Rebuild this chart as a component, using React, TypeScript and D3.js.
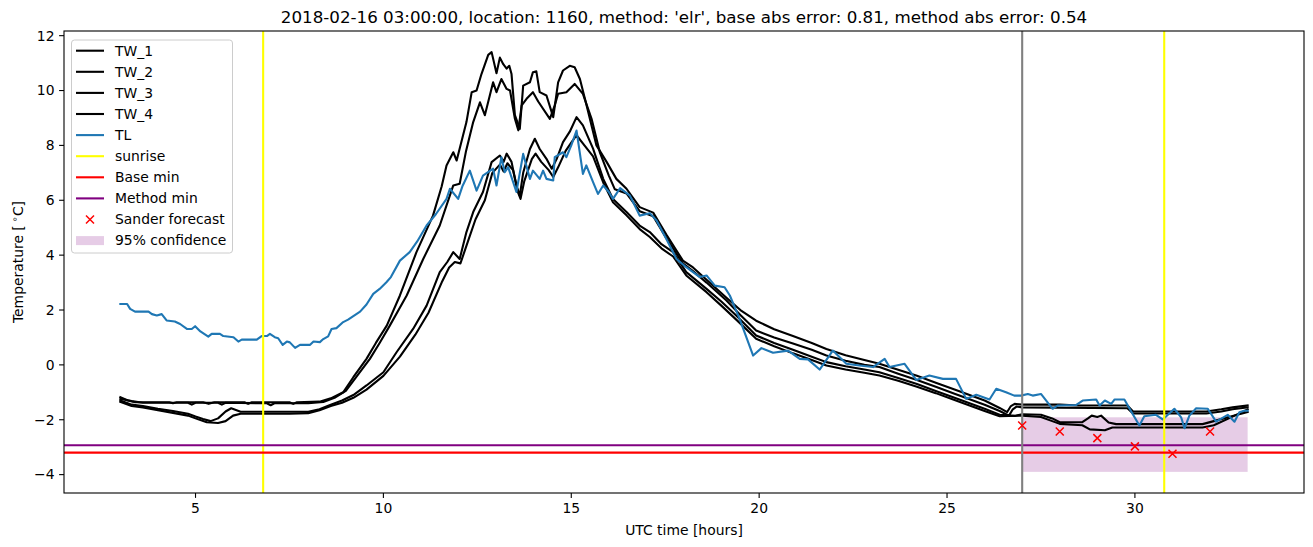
import React from "react";
import * as d3 from "d3";

type P = [number, number];

const TITLE = "2018-02-16 03:00:00, location: 1160, method: 'elr', base abs error: 0.81, method abs error: 0.54";
const X_TICKS = [5, 10, 15, 20, 25, 30];
const Y_TICKS = [-4, -2, 0, 2, 4, 6, 8, 10, 12];
const X_DOMAIN: P = [1.5, 34.5];
const Y_DOMAIN: P = [-4.67, 12.17];

const SUNRISE = [6.8, 30.78];
const FORECAST_START = 27;
const BASE_MIN = -3.2;
const METHOD_MIN = -2.93;
const CONF_X: P = [27, 33];
const CONF_Y: P = [-3.9, -1.91];
const SANDER_T = [27, 28, 29, 30, 31, 32];
const SANDER_V = [-2.21, -2.43, -2.67, -2.97, -3.24, -2.43];

const TW_1: P[] = [[3.0,-1.18],[3.2,-1.3],[3.4,-1.36],[4.3,-1.36],[4.4,-1.4],[4.5,-1.36],[5.2,-1.36],[5.35,-1.42],[5.5,-1.36],[6.3,-1.36],[6.4,-1.42],[6.5,-1.36],[7.5,-1.36],[7.6,-1.42],[7.7,-1.36],[8.3,-1.34],[8.6,-1.22],[8.93,-1.0],[9.2,-0.45],[9.55,0.22],[9.8,0.8],[10.09,1.43],[10.44,2.53],[10.88,4.11],[11.32,5.44],[11.55,6.5],[11.68,7.27],[11.86,7.75],[11.95,7.45],[12.21,8.85],[12.35,9.94],[12.48,10.0],[12.61,10.6],[12.79,11.3],[12.88,11.4],[13.01,10.63],[13.1,11.2],[13.19,10.96],[13.28,10.8],[13.35,10.9],[13.41,10.6],[13.5,9.1],[13.63,8.6],[13.72,10.18],[13.9,10.3],[13.98,10.67],[14.07,10.7],[14.16,9.94],[14.34,9.82],[14.52,9.03],[14.65,10.3],[14.78,10.73],[14.96,10.9],[15.09,10.85],[15.23,10.42],[15.4,9.5],[15.67,8.0],[15.94,7.4],[16.2,6.78],[16.47,6.42],[16.82,5.75],[17.18,5.55],[17.53,4.75],[17.97,3.8],[18.24,3.55],[18.6,3.1],[19.13,2.45],[19.5,2.0],[19.92,1.61],[20.4,1.3],[20.9,1.05],[21.4,0.8],[21.79,0.58],[22.3,0.35],[22.8,0.18],[23.2,0.04],[23.7,-0.18],[24.2,-0.4],[24.7,-0.65],[25.2,-0.9],[25.6,-1.1],[26.0,-1.3],[26.4,-1.57],[26.6,-1.72],[26.7,-1.5],[26.8,-1.42],[27.0,-1.45],[28.0,-1.45],[28.5,-1.48],[29.8,-1.48],[29.95,-1.7],[31.9,-1.7],[32.3,-1.62],[32.6,-1.55],[33.0,-1.48]];

const TW_2: P[] = [[3.0,-1.24],[3.3,-1.32],[3.6,-1.38],[4.8,-1.38],[4.9,-1.45],[5.0,-1.38],[5.6,-1.38],[5.7,-1.45],[5.8,-1.38],[6.9,-1.4],[7.0,-1.47],[7.1,-1.4],[8.0,-1.4],[8.4,-1.35],[8.7,-1.2],[9.0,-0.95],[9.3,-0.4],[9.64,0.22],[9.9,0.8],[10.17,1.43],[10.62,2.53],[11.06,3.86],[11.5,5.08],[11.86,6.54],[12.03,6.6],[12.2,7.8],[12.39,8.85],[12.57,9.57],[12.7,9.1],[12.92,10.3],[13.01,9.94],[13.14,10.42],[13.28,10.06],[13.37,10.0],[13.5,8.97],[13.59,8.55],[13.68,9.46],[13.81,9.7],[13.98,9.94],[14.12,9.6],[14.43,8.97],[14.56,9.46],[14.65,9.88],[14.87,9.94],[15.09,10.24],[15.31,9.88],[15.54,8.97],[15.76,7.75],[16.0,6.9],[16.16,6.4],[16.47,6.25],[16.82,5.6],[17.18,5.42],[17.53,4.62],[17.97,3.7],[18.24,3.42],[18.6,3.0],[19.13,2.35],[19.5,1.82],[19.92,1.25],[20.4,1.0],[20.9,0.78],[21.4,0.55],[21.79,0.34],[22.3,0.15],[22.8,0.0],[23.2,-0.08],[23.7,-0.32],[24.2,-0.55],[24.7,-0.8],[25.2,-1.05],[25.6,-1.25],[26.0,-1.45],[26.4,-1.68],[26.65,-1.85],[26.75,-1.62],[26.85,-1.52],[27.0,-1.55],[29.8,-1.58],[29.95,-1.77],[31.9,-1.77],[32.3,-1.7],[32.6,-1.62],[33.0,-1.55]];

const TW_3: P[] = [[3.0,-1.3],[3.3,-1.45],[3.6,-1.5],[4.0,-1.6],[4.4,-1.68],[4.8,-1.78],[5.0,-1.88],[5.2,-1.97],[5.4,-2.05],[5.6,-1.95],[5.8,-1.7],[5.95,-1.58],[6.2,-1.71],[8.0,-1.71],[8.3,-1.62],[8.6,-1.45],[8.9,-1.3],[9.2,-1.1],[9.55,-0.75],[10.0,-0.27],[10.35,0.46],[10.79,1.31],[11.15,2.16],[11.5,3.38],[11.7,3.75],[11.86,4.11],[12.03,3.86],[12.21,4.84],[12.39,5.57],[12.65,6.3],[12.88,7.39],[13.1,7.63],[13.2,7.4],[13.28,7.7],[13.41,7.4],[13.54,6.54],[13.63,6.17],[13.72,7.0],[13.9,7.87],[14.03,8.24],[14.16,7.87],[14.34,7.51],[14.48,7.15],[14.61,7.5],[14.78,8.12],[14.96,8.5],[15.14,9.03],[15.31,8.73],[15.58,7.88],[15.85,6.78],[16.11,6.05],[16.47,5.57],[16.82,5.08],[17.09,4.84],[17.4,4.4],[17.71,4.11],[18.06,3.38],[18.6,2.77],[19.0,2.3],[19.39,1.8],[19.92,1.07],[20.4,0.8],[20.9,0.55],[21.4,0.3],[21.79,0.1],[22.3,-0.05],[22.8,-0.17],[23.2,-0.27],[23.7,-0.48],[24.2,-0.7],[24.7,-0.95],[25.2,-1.2],[25.6,-1.4],[26.0,-1.6],[26.4,-1.82],[26.8,-1.86],[27.0,-1.8],[27.5,-1.82],[27.8,-1.95],[28.0,-2.09],[28.6,-2.09],[28.75,-1.95],[28.85,-1.85],[29.0,-1.9],[29.1,-1.85],[29.3,-2.1],[29.5,-2.16],[31.8,-2.16],[32.1,-2.05],[32.5,-1.9],[33.0,-1.72]];

const TW_4: P[] = [[3.0,-1.35],[3.3,-1.5],[3.6,-1.55],[4.0,-1.65],[4.4,-1.75],[4.8,-1.85],[5.0,-1.95],[5.3,-2.09],[5.6,-2.12],[5.8,-2.05],[6.0,-1.85],[6.2,-1.78],[7.5,-1.78],[8.0,-1.76],[8.3,-1.65],[8.6,-1.5],[8.9,-1.38],[9.2,-1.2],[9.55,-0.9],[10.0,-0.4],[10.44,0.3],[10.85,1.1],[11.2,1.9],[11.55,3.0],[11.75,3.55],[11.9,3.75],[12.05,3.7],[12.25,4.5],[12.45,5.3],[12.7,6.0],[12.9,7.0],[13.1,7.3],[13.2,7.05],[13.3,7.35],[13.45,7.1],[13.58,6.3],[13.65,6.05],[13.75,6.7],[13.95,7.5],[14.05,7.7],[14.2,7.4],[14.4,7.1],[14.52,6.85],[14.65,7.2],[14.85,7.8],[15.0,8.1],[15.14,8.37],[15.35,8.0],[15.58,7.6],[15.85,6.65],[16.11,5.93],[16.47,5.45],[16.82,4.95],[17.09,4.66],[17.4,4.25],[17.71,3.95],[18.06,3.26],[18.6,2.65],[19.0,2.15],[19.39,1.65],[19.92,0.95],[20.4,0.68],[20.9,0.42],[21.4,0.18],[21.79,-0.02],[22.3,-0.17],[22.8,-0.29],[23.2,-0.39],[23.7,-0.58],[24.2,-0.8],[24.7,-1.03],[25.2,-1.28],[25.6,-1.48],[26.0,-1.68],[26.4,-1.87],[27.0,-1.85],[27.5,-1.9],[27.8,-2.05],[28.0,-2.15],[28.6,-2.2],[28.8,-2.35],[29.2,-2.38],[29.4,-2.28],[31.8,-2.28],[32.1,-2.2],[32.5,-1.95],[33.0,-1.62]];

const TL: P[] = [[3.0,2.22],[3.18,2.22],[3.26,2.04],[3.39,1.94],[3.75,1.94],[3.84,1.85],[3.97,1.8],[4.1,1.85],[4.23,1.62],[4.45,1.58],[4.59,1.49],[4.77,1.31],[4.9,1.31],[4.99,1.41],[5.13,1.22],[5.34,1.03],[5.43,1.13],[5.65,1.13],[5.74,1.05],[6.01,1.01],[6.14,0.85],[6.23,0.92],[6.63,0.92],[6.76,1.05],[6.9,1.05],[6.98,1.13],[7.11,1.01],[7.2,0.97],[7.32,0.73],[7.43,0.85],[7.51,0.82],[7.65,0.62],[7.78,0.73],[8.05,0.73],[8.14,0.85],[8.31,0.83],[8.4,0.94],[8.53,1.04],[8.62,1.31],[8.75,1.34],[8.93,1.56],[9.06,1.65],[9.2,1.78],[9.38,1.94],[9.55,2.2],[9.73,2.59],[9.9,2.77],[10.08,3.01],[10.2,3.2],[10.44,3.8],[10.7,4.11],[10.9,4.5],[11.15,5.08],[11.4,5.5],[11.68,6.05],[11.77,6.42],[11.99,6.05],[12.1,6.5],[12.3,7.08],[12.48,6.35],[12.65,6.9],[12.92,7.15],[13.01,6.54],[13.14,7.57],[13.23,7.02],[13.32,7.21],[13.54,6.3],[13.72,7.69],[13.9,6.78],[13.98,7.08],[14.16,6.78],[14.25,7.08],[14.34,6.78],[14.52,6.72],[14.56,7.57],[14.78,7.75],[14.87,7.57],[15.0,8.0],[15.14,8.54],[15.31,6.96],[15.4,7.27],[15.58,6.66],[15.71,6.23],[15.85,6.54],[16.0,6.3],[16.11,6.05],[16.3,6.44],[16.56,6.17],[16.82,5.44],[17.09,5.53],[17.27,5.26],[17.53,4.59],[17.8,3.86],[18.06,3.56],[18.42,3.2],[18.6,3.26],[18.82,2.89],[19.08,2.83],[19.22,2.53],[19.48,1.68],[19.84,0.34],[20.06,0.61],[20.37,0.44],[20.77,0.52],[21.08,0.22],[21.3,0.2],[21.61,-0.17],[21.96,0.52],[22.32,0.04],[22.67,-0.02],[23.03,-0.08],[23.34,0.22],[23.47,-0.08],[23.87,0.04],[24.18,-0.55],[24.53,-0.39],[24.89,-0.51],[25.24,-0.51],[25.51,-1.24],[25.78,-1.09],[26.13,-1.26],[26.31,-0.87],[26.57,-1.0],[26.79,-1.12],[26.97,-1.12],[27.15,-1.06],[27.28,-1.12],[27.5,-1.06],[27.81,-1.6],[27.95,-1.48],[28.44,-1.46],[28.61,-1.3],[28.97,-1.26],[29.06,-1.48],[29.2,-1.3],[29.37,-1.42],[29.46,-1.26],[29.72,-1.26],[29.94,-1.79],[30.12,-2.21],[30.25,-1.87],[30.56,-1.82],[30.74,-1.99],[31.05,-1.6],[31.23,-1.91],[31.32,-2.31],[31.45,-1.85],[31.63,-1.58],[31.94,-1.6],[32.16,-2.07],[32.47,-1.82],[32.65,-2.07],[32.78,-1.73],[32.91,-1.67],[33.0,-1.67]];

const LEGEND = ["TW_1", "TW_2", "TW_3", "TW_4", "TL", "sunrise", "Base min", "Method min", "Sander forecast", "95% confidence"];

const W = 1313, H = 547;
const L = 64, R = 1304, T = 31, B = 493;
const FONT = "'DejaVu Sans', sans-serif";

export default function App() {
  const x = d3.scaleLinear().domain(X_DOMAIN).range([L, R]);
  const y = d3.scaleLinear().domain(Y_DOMAIN).range([B, T]);
  const line = d3.line<P>().x(d => x(d[0])).y(d => y(d[1]));
  const tw = [TW_1, TW_2, TW_3, TW_4];
  const fmt = (v: number) => (v < 0 ? "\u2212" + Math.abs(v) : String(v));
  const mk = 4;

  const legY0 = 50.7, legDy = 21.1;
  const legendHandle = (i: number, cy: number) => {
    const x0 = 76, x1 = 104;
    if (i < 4) return <line x1={x0} x2={x1} y1={cy} y2={cy} stroke="black" strokeWidth={2.1} />;
    if (i === 4) return <line x1={x0} x2={x1} y1={cy} y2={cy} stroke="#1f77b4" strokeWidth={2.1} />;
    if (i === 5) return <line x1={x0} x2={x1} y1={cy} y2={cy} stroke="yellow" strokeWidth={2.1} />;
    if (i === 6) return <line x1={x0} x2={x1} y1={cy} y2={cy} stroke="red" strokeWidth={2.1} />;
    if (i === 7) return <line x1={x0} x2={x1} y1={cy} y2={cy} stroke="purple" strokeWidth={2.1} />;
    if (i === 8) return <path d={`M${90 - mk},${cy - mk}L${90 + mk},${cy + mk}M${90 - mk},${cy + mk}L${90 + mk},${cy - mk}`} stroke="red" strokeWidth={1.5} />;
    return <rect x={x0} y={cy - 4.5} width={x1 - x0} height={9} fill="purple" fillOpacity={0.2} />;
  };

  return (
    <svg width={W} height={H} style={{ position: "absolute", left: 0, top: 0, fontFamily: FONT }}>
      <rect x={0} y={0} width={W} height={H} fill="white" />
      <defs>
        <clipPath id="plot"><rect x={L} y={T} width={R - L} height={B - T} /></clipPath>
      </defs>
      <g clipPath="url(#plot)">
        <rect x={x(CONF_X[0])} y={y(CONF_Y[1])} width={x(CONF_X[1]) - x(CONF_X[0])} height={y(CONF_Y[0]) - y(CONF_Y[1])} fill="purple" fillOpacity={0.2} />
        {tw.map((s, i) => (
          <path key={i} d={line(s) || ""} fill="none" stroke="black" strokeWidth={2.1} strokeLinejoin="round" strokeLinecap="square" />
        ))}
        <path d={line(TL) || ""} fill="none" stroke="#1f77b4" strokeWidth={2.1} strokeLinejoin="round" strokeLinecap="square" />
        {SUNRISE.map((s, i) => (
          <line key={i} x1={x(s)} x2={x(s)} y1={T} y2={B} stroke="yellow" strokeWidth={2.1} />
        ))}
        <line x1={L} x2={R} y1={y(BASE_MIN)} y2={y(BASE_MIN)} stroke="red" strokeWidth={2.1} />
        <line x1={L} x2={R} y1={y(METHOD_MIN)} y2={y(METHOD_MIN)} stroke="purple" strokeWidth={2.1} />
        <line x1={x(FORECAST_START)} x2={x(FORECAST_START)} y1={T} y2={B} stroke="grey" strokeWidth={2.1} />
        {SANDER_T.map((t, i) => {
          const cx = x(t), cy = y(SANDER_V[i]);
          return <path key={i} d={`M${cx - mk},${cy - mk}L${cx + mk},${cy + mk}M${cx - mk},${cy + mk}L${cx + mk},${cy - mk}`} stroke="red" strokeWidth={1.5} />;
        })}
      </g>
      <rect x={L} y={T} width={R - L} height={B - T} fill="none" stroke="black" strokeWidth={1.1} />
      {X_TICKS.map(t => (
        <g key={t}>
          <line x1={x(t)} x2={x(t)} y1={B} y2={B + 4.9} stroke="black" strokeWidth={1.1} />
          <text x={x(t)} y={B + 20} textAnchor="middle" fontSize={13.9}>{fmt(t)}</text>
        </g>
      ))}
      {Y_TICKS.map(t => (
        <g key={t}>
          <line x1={L - 4.9} x2={L} y1={y(t)} y2={y(t)} stroke="black" strokeWidth={1.1} />
          <text x={L - 9.5} y={y(t)} dy="0.35em" textAnchor="end" fontSize={13.9}>{fmt(t)}</text>
        </g>
      ))}
      <text x={(L + R) / 2} y={23} textAnchor="middle" fontSize={16.7}>{TITLE}</text>
      <text x={(L + R) / 2} y={535} textAnchor="middle" fontSize={13.9}>UTC time [hours]</text>
      <text transform={`translate(23,${(T + B) / 2}) rotate(-90)`} textAnchor="middle" fontSize={13.9}>
        Temperature [<tspan dy={-5} fontSize={9.7}>{" \u2218"}</tspan><tspan dy={5}>C]</tspan>
      </text>
      <g>
        <rect x={71.5} y={40} width={161} height={213} rx={3} fill="white" fillOpacity={0.8} stroke="#cccccc" strokeWidth={1} />
        {LEGEND.map((name, i) => {
          const cy = legY0 + i * legDy;
          return (
            <g key={name}>
              {legendHandle(i, cy)}
              <text x={115} y={cy} dy="0.35em" fontSize={13.9}>{name}</text>
            </g>
          );
        })}
      </g>
    </svg>
  );
}
